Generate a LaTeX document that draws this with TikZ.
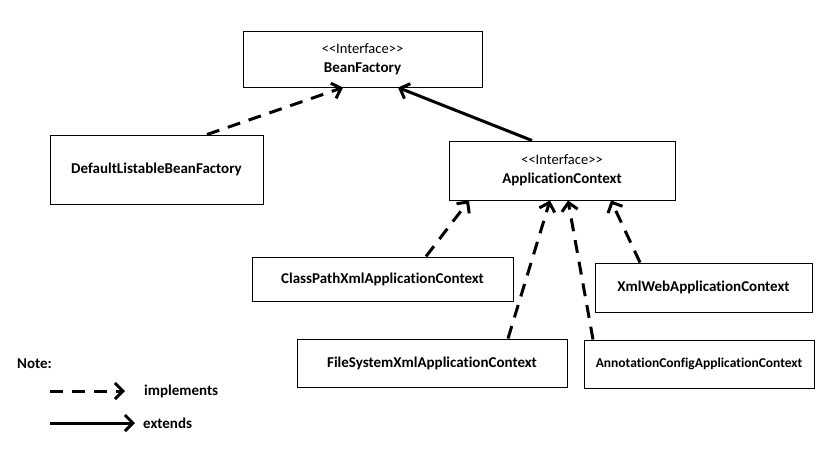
\documentclass[tikz,border=0pt]{standalone}
\usepackage{fontspec}
\setmainfont{Carlito}[Ligatures={NoCommon}]
\usetikzlibrary{arrows.meta}

\begin{document}
\begin{tikzpicture}[x=1pt,y=-1pt,>={Straight Barb[length=8pt,width=16pt]},
  every node/.style={font=\fontsize{15}{19}\selectfont\bfseries},
  box/.style={draw,line width=1pt,align=center},
  impl/.style={->,line width=3pt,dash pattern=on 13pt off 9pt},
  ext/.style={->,line width=3pt}]
  \useasboundingbox (0,0) rectangle (819,460);
  \node[box,minimum width=239pt,minimum height=55pt] (bf) at (362.5,59.5) {{\normalfont\fontsize{14.5}{19}\selectfont<{}<Interface>{}>}\\BeanFactory};
  \node[box,minimum width=213pt,minimum height=69pt] (dlbf) at (156.5,169.5) {DefaultListableBeanFactory};
  \node[box,minimum width=226pt,minimum height=59pt] (ac) at (562,170.5) {{\normalfont\fontsize{14.5}{19}\selectfont<{}<Interface>{}>}\\ApplicationContext};
  \node[box,minimum width=261pt,minimum height=44pt] (cp) at (382.5,279) {ClassPathXmlApplicationContext};
  \node[box,minimum width=270pt,minimum height=48pt] (fs) at (432,363) {FileSystemXmlApplicationContext};
  \node[box,minimum width=217pt,minimum height=49pt] (xw) at (703.5,287.5) {XmlWebApplicationContext};
  \node[box,minimum width=230pt,minimum height=48pt,font=\fontsize{13.5}{16}\selectfont\bfseries] (an) at (699,364) {AnnotationConfigApplicationContext};
  \draw[impl] ([xshift=50.5pt]dlbf.north) -- ([xshift=-19.5pt]bf.south);
  \draw[ext] ([xshift=-30pt]ac.north) -- ([xshift=35.5pt]bf.south);
  \draw[impl] ([xshift=43.5pt]cp.north) -- ([xshift=-93pt]ac.south);
  \draw[impl] ([xshift=76pt]fs.north) -- ([xshift=-12pt]ac.south);
  \draw[impl] ([xshift=-106pt]an.north) -- ([xshift=6pt]ac.south);
  \draw[impl] ([xshift=-63.5pt]xw.north) -- ([xshift=49pt]ac.south);
  \node[anchor=west,inner sep=0pt] (note) at (17,364) {Note:};
  \node[anchor=west,inner sep=0pt] (implLbl) at (144,391) {implements};
  \node[anchor=west,inner sep=0pt] (extLbl) at (143,423) {extends};
  \coordinate (impl0) at (50,391);
  \coordinate (ext0) at (50,423);
  \draw[impl,shorten >=19pt] (impl0) -- (implLbl.west);
  \draw[ext,shorten >=8pt] (ext0) -- (extLbl.west);
\end{tikzpicture}
\end{document}
